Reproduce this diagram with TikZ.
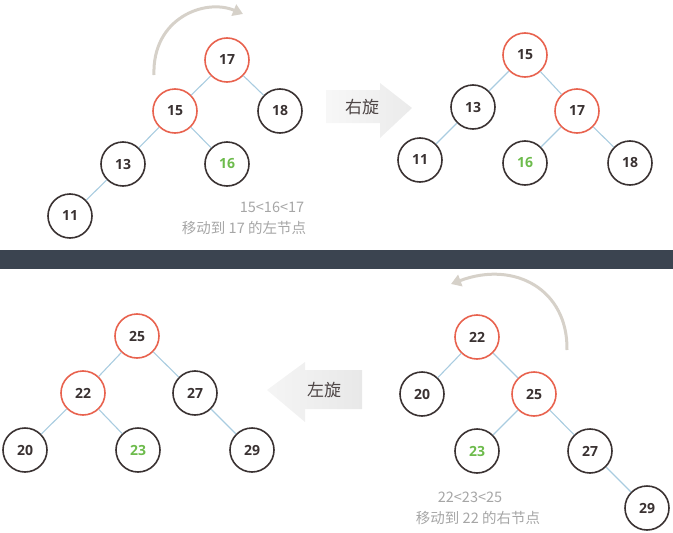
\documentclass[tikz,border=0pt]{standalone}
\usepackage{fontspec}
\setmainfont{Open Sans}
\newfontfamily\cjk{Noto Sans CJK SC}
\usetikzlibrary{arrows.meta}

\definecolor{ringred}{HTML}{E8624E}
\definecolor{ringdark}{HTML}{3A3232}
\definecolor{linkblue}{HTML}{A9CCE0}
\definecolor{movedgreen}{HTML}{6DBB4C}
\definecolor{notegray}{HTML}{A6A6A6}
\definecolor{swinggray}{HTML}{D6D1C9}
\definecolor{barslate}{HTML}{3B4450}

\tikzset{
  keynode/.style={circle, draw=ringdark, line width=1.6pt, minimum size=44pt, inner sep=0pt,
    font=\fontsize{14}{14}\selectfont\bfseries, text=ringdark},
  hotnode/.style={keynode, draw=ringred},
  moved/.style={text=movedgreen},
  link/.style={draw=linkblue, line width=1.1pt},
  swing/.style={draw=swinggray, line width=3pt, -{Triangle[length=10pt,width=12pt]}},
  note/.style={text=notegray, font=\cjk\fontsize{14.5}{14.5}\selectfont},
  turnlabel/.style={text=ringdark!90, font=\cjk\fontsize{17}{17}\selectfont}
}

\begin{document}
\begin{tikzpicture}[x=1pt,y=-1pt]

\useasboundingbox (0,0) rectangle (673,533);

% right rotation
\node[hotnode] (a17) at (227,60) {17};

\node[hotnode] (a15) at (175,111) {15};

\node[keynode] (a18) at (280,111) {18};

\node[keynode] (a13) at (123,164) {13};

\node[keynode,moved] (a16) at (227,164) {16};

\node[keynode] (a11) at (70,216) {11};

\draw[link] (a17)--(a15);
\draw[link] (a17)--(a18);
\draw[link] (a15)--(a13);
\draw[link] (a15)--(a16);
\draw[link] (a13)--(a11);

\coordinate (swingA) at (154,75);
\coordinate (swingB) at (243,14);
\draw[swing] (swingA) .. controls (152,18) and (205,-2) .. (swingB);

\node[note] (noteA1) at (272,207) {15<16<17};
\node[note] (noteA2) at (244,228) {移动到 17 的左节点};

\shade[left color=black!3, right color=black!8] (326,90) -- (380,90) -- (380,83) -- (412,108) -- (380,138) -- (380,123) -- (326,123) -- cycle;
\node[turnlabel] (turnR) at (362,107) {右旋};

\node[hotnode] (b15) at (525,55) {15};

\node[keynode] (b13) at (473,107) {13};

\node[hotnode] (b17) at (577,111) {17};

\node[keynode] (b11) at (420,160) {11};

\node[keynode,moved] (b16) at (525,163) {16};

\node[keynode] (b18) at (630,163) {18};

\draw[link] (b15)--(b13);
\draw[link] (b15)--(b17);
\draw[link] (b13)--(b11);
\draw[link] (b17)--(b16);
\draw[link] (b17)--(b18);

\fill[barslate] (0,250) rectangle (673,269);

% left rotation
\node[hotnode] (c25) at (137,336) {25};

\node[hotnode] (c22) at (83,393) {22};

\node[keynode] (c27) at (195,393) {27};

\node[keynode] (c20) at (25,450) {20};

\node[keynode,moved] (c23) at (138,450) {23};

\node[keynode] (c29) at (252,450) {29};

\draw[link] (c25)--(c22);
\draw[link] (c25)--(c27);
\draw[link] (c22)--(c20);
\draw[link] (c22)--(c23);
\draw[link] (c27)--(c29);

\shade[left color=black!4, right color=black!9] (267,390) -- (305,362) -- (305,370) -- (362,370) -- (362,409) -- (305,409) -- (305,422) -- cycle;
\node[turnlabel] (turnL) at (324,390) {左旋};

\node[hotnode] (d22) at (477,337) {22};

\node[keynode] (d20) at (422,394) {20};

\node[hotnode] (d25) at (534,394) {25};

\node[keynode,moved] (d23) at (477,451) {23};

\node[keynode] (d27) at (590,451) {27};

\node[keynode] (d29) at (647,508) {29};

\draw[link] (d22)--(d20);
\draw[link] (d22)--(d25);
\draw[link] (d25)--(d23);
\draw[link] (d25)--(d27);
\draw[link] (d27)--(d29);

\coordinate (swingC) at (567,350);
\coordinate (swingD) at (451,284);
\draw[swing] (swingC) .. controls (568,290) and (515,260) .. (swingD);

\node[note] (noteD1) at (470,497) {22<23<25};
\node[note] (noteD2) at (478,518) {移动到 22 的右节点};

\end{tikzpicture}
\end{document}
